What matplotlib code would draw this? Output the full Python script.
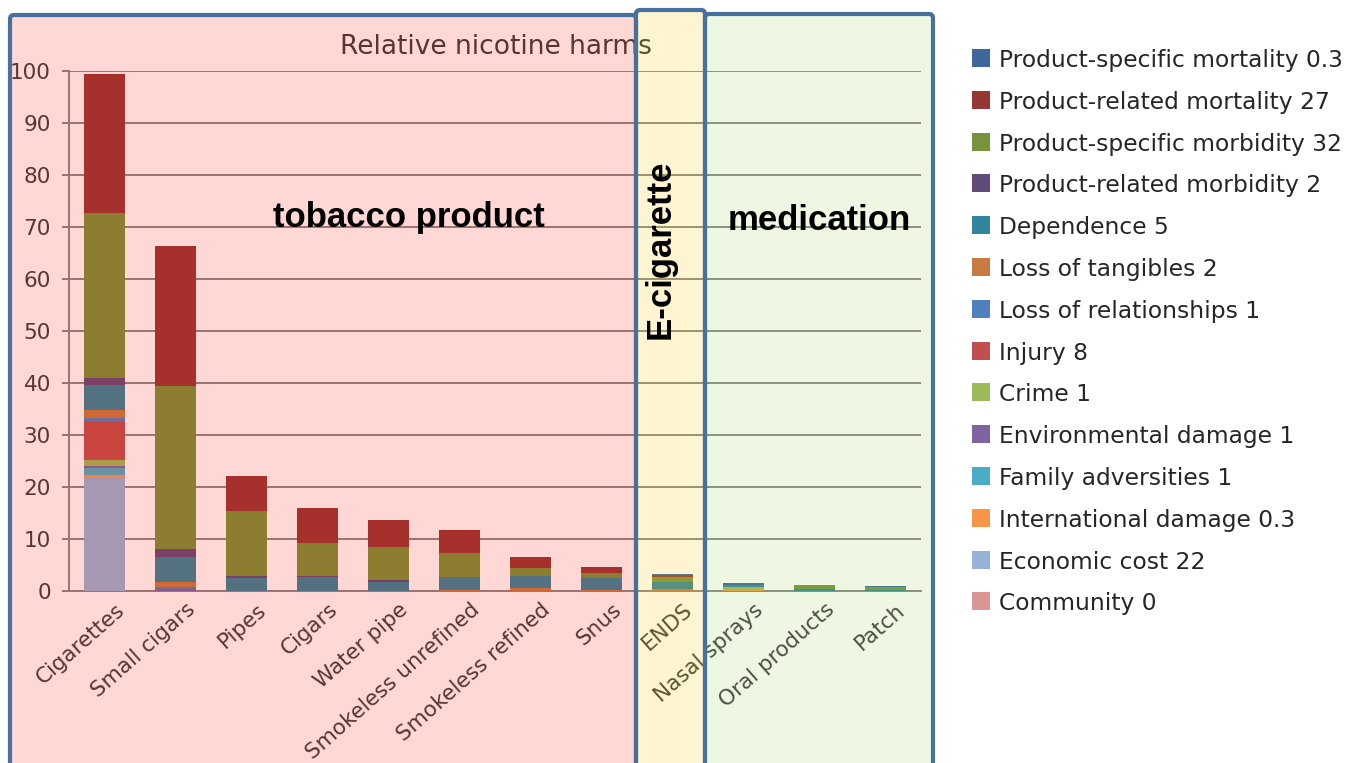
import matplotlib
matplotlib.use('Agg')
import matplotlib.pyplot as plt
from matplotlib.patches import FancyBboxPatch, Rectangle
import matplotlib.transforms as mtransforms
import numpy as np

plt.rcParams['font.family'] = ['DejaVu Sans']

# ---------------- data ----------------
categories = ['Cigarettes', 'Small cigars', 'Pipes', 'Cigars', 'Water pipe',
              'Smokeless unrefined', 'Smokeless refined', 'Snus', 'ENDS',
              'Nasal sprays', 'Oral products', 'Patch']

# stacked bottom -> top
community              = [0, 0, 0, 0, 0, 0, 0, 0, 0, 0, 0, 0]
economic_cost          = [22.0, 0, 0, 0, 0, 0, 0, 0, 0, 0, 0, 0]
international_damage   = [0.3, 0, 0, 0, 0, 0, 0, 0, 0, 0.3, 0, 0]
family_adversities     = [1.3, 0, 0, 0, 0, 0, 0, 0, 0, 0, 0, 0]
environmental_damage   = [0.5, 0.4, 0, 0, 0, 0, 0, 0, 0, 0, 0, 0]
crime                  = [1.1, 0, 0, 0, 0, 0, 0, 0, 0, 0.4, 0, 0]
injury                 = [7.5, 0, 0, 0, 0, 0, 0, 0, 0, 0, 0, 0]
loss_of_relationships  = [0.6, 0.4, 0, 0, 0, 0, 0, 0, 0, 0, 0, 0]
loss_of_tangibles      = [1.6, 1.0, 0, 0, 0, 0.2, 0.6, 0.25, 0.3, 0, 0, 0]
dependence             = [4.8, 4.7, 2.5, 2.6, 1.8, 2.4, 2.2, 2.3, 1.5, 0.5, 0.3, 0.2]
product_related_morb   = [1.3, 1.5, 0.3, 0.3, 0.3, 0, 0, 0, 0, 0, 0, 0]
product_specific_morb  = [31.6, 31.5, 12.6, 6.3, 6.3, 4.7, 1.6, 1.0, 0.9, 0, 0.85, 0.5]
product_related_mort   = [26.9, 26.9, 6.7, 6.7, 5.3, 4.4, 2.2, 1.1, 0.4, 0, 0, 0]
product_specific_mort  = [0, 0, 0, 0, 0, 0, 0, 0, 0.2, 0.25, 0, 0.25]

series_values = [community, economic_cost, international_damage, family_adversities,
                 environmental_damage, crime, injury, loss_of_relationships,
                 loss_of_tangibles, dependence, product_related_morb,
                 product_specific_morb, product_related_mort, product_specific_mort]
series_labels = ['Community 0', 'Economic cost 22', 'International damage 0.3',
                 'Family adversities 1', 'Environmental damage 1', 'Crime 1',
                 'Injury 8', 'Loss of relationships 1', 'Loss of tangibles 2',
                 'Dependence 5', 'Product-related morbidity 2',
                 'Product-specific morbidity 32', 'Product-related mortality 27',
                 'Product-specific mortality 0.3']
series_colors = ['#D99694', '#95B3D7', '#F79646', '#4BACC6', '#8064A2', '#9BBB59',
                 '#C0504D', '#4F81BD', '#C77B42', '#31859C', '#604A7B', '#77933C',
                 '#953735', '#3F679C']

yticks = list(range(0, 101, 10))

# ---------------- figure ----------------
W, H = 1355, 763
fig = plt.figure(figsize=(W / 100, H / 100), dpi=100)
fig.patch.set_facecolor('white')

ax_left, ax_right, ax_top, ax_bottom = 69, 921, 71, 591
ax = fig.add_axes([ax_left / W, 1 - ax_bottom / H, (ax_right - ax_left) / W,
                   (ax_bottom - ax_top) / H])
ax.set_facecolor('none')

x = np.arange(len(categories))
bottom = np.zeros(len(categories))
for vals, col in zip(series_values, series_colors):
    v = np.array(vals, dtype=float)
    ax.bar(x, v, width=0.58, bottom=bottom, color=col, zorder=3, linewidth=0)
    bottom += v

ax.set_xlim(-0.5, len(categories) - 0.5)
ax.set_ylim(0, 100)
ax.set_yticks(yticks)
ax.set_yticklabels([str(t) for t in yticks])
ax.yaxis.grid(True, color='#868686', linewidth=1.4, zorder=0)
ax.set_axisbelow(True)
for s in ['top', 'right']:
    ax.spines[s].set_visible(False)
for s in ['left', 'bottom']:
    ax.spines[s].set_color('#868686')
    ax.spines[s].set_linewidth(1.4)
ax.tick_params(axis='y', length=5, width=1.4, color='#868686', labelsize=15.5,
               labelcolor='#3a3a3a', pad=8)
ax.tick_params(axis='x', length=0, labelsize=15.5, labelcolor='#3a3a3a', pad=0)
ax.set_xticks(x)
ax.set_xticklabels(categories, rotation=41.5, ha='right', va='center',
                   rotation_mode='anchor')
offset = mtransforms.ScaledTranslation(17 / 100, -16 / 100, fig.dpi_scale_trans)
for lab in ax.get_xticklabels():
    lab.set_transform(lab.get_transform() + offset)

# title (under overlay)
fig.text(496 / W, 1 - 47 / H, 'Relative nicotine harms', ha='center', va='center',
         fontsize=19, color='#3a3a3a', zorder=1)

# ---------------- translucent overlay boxes ----------------
ident = mtransforms.IdentityTransform()
border = '#48709E'
boxes = [  # (x0, x1, ytop, fill rgba)
    (10, 636, 15, (1.0, 0.08, 0.0, 0.17)),
    (636, 705, 10, (1.0, 0.78, 0.0, 0.18)),
    (705, 933, 14, (0.57, 0.82, 0.31, 0.16)),
]
for x0, x1, yt, fc in boxes:
    p = FancyBboxPatch((x0, -40), x1 - x0, (H - yt) + 40,
                       boxstyle='round,pad=0,rounding_size=4',
                       transform=ident, facecolor=fc, edgecolor=border,
                       linewidth=3.0, zorder=5)
    fig.add_artist(p)

# section labels (above overlay)
fig.text(409 / W, 1 - 218 / H, 'tobacco product', ha='center', va='center',
         fontsize=25, fontweight='bold', family='Liberation Sans',
         color='black', zorder=10)
fig.text(819 / W, 1 - 221 / H, 'medication', ha='center', va='center',
         fontsize=25, fontweight='bold', family='Liberation Sans',
         color='black', zorder=10)
fig.text(660 / W, 1 - 249 / H, 'E-cigarette', ha='center', va='center',
         rotation=90, fontsize=25, fontweight='bold', family='Liberation Sans',
         color='black', zorder=10)

# ---------------- legend (manual, top entry = last series) ----------------
leg_y0, leg_dy = 58, 41.8
for i, (lab, col) in enumerate(zip(series_labels[::-1], series_colors[::-1])):
    yc = leg_y0 + i * leg_dy
    r = Rectangle((972, H - yc - 9), 18, 18, transform=ident, facecolor=col,
                  edgecolor='none', zorder=10)
    fig.add_artist(r)
    fig.text(999 / W, 1 - yc / H, lab, ha='left', va='center_baseline',
             fontsize=16.8, color='#262626', zorder=10)

fig.savefig('out.png', dpi=100, facecolor='white')
